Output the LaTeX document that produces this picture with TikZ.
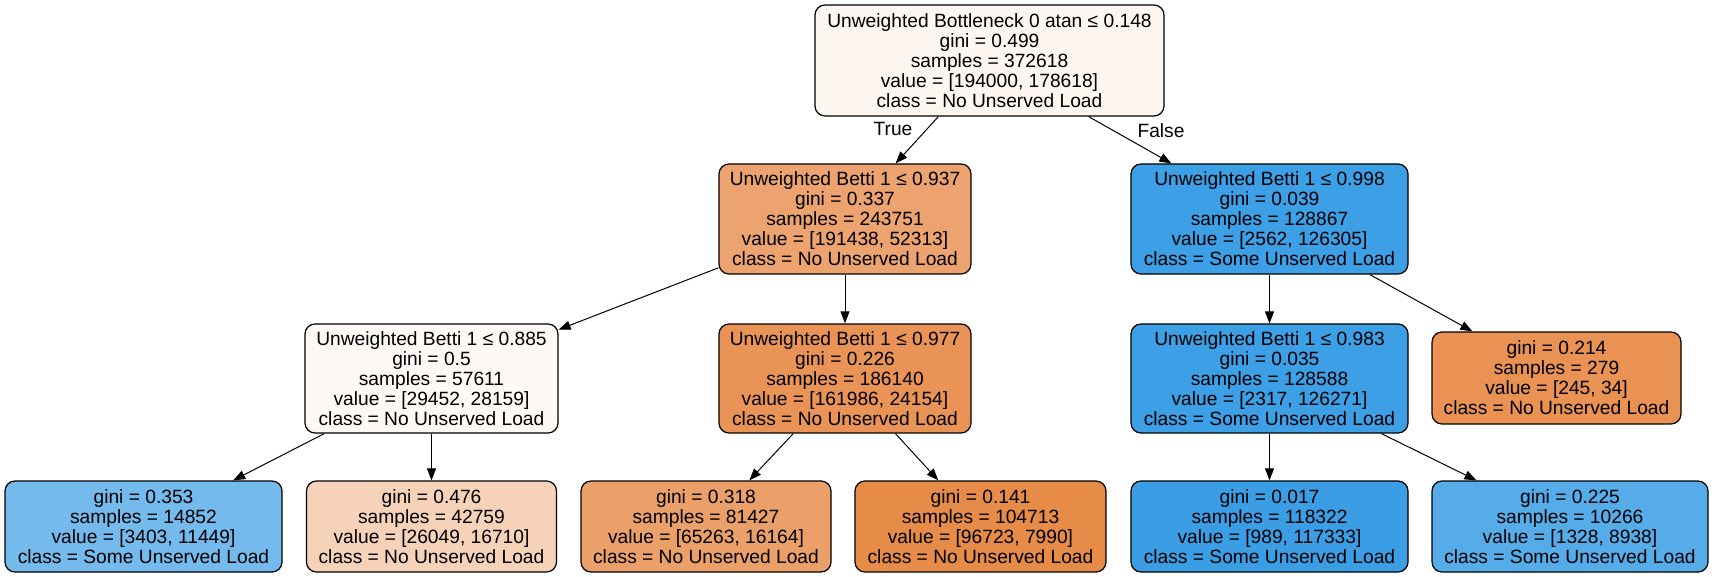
\documentclass[tikz,border=0pt]{standalone}
\usepackage{fontspec}
\setmainfont{Liberation Sans}
\usetikzlibrary{arrows.meta}
\definecolor{cRoot}{HTML}{FDF5EF}
\definecolor{cA}{HTML}{ECA36F}
\definecolor{cB}{HTML}{3D9FE6}
\definecolor{cC}{HTML}{FEF9F6}
\definecolor{cD}{HTML}{E99456}
\definecolor{cE}{HTML}{3D9FE5}
\definecolor{cF}{HTML}{E99254}
\definecolor{cLa}{HTML}{74BAED}
\definecolor{cLb}{HTML}{F6D2B8}
\definecolor{cLc}{HTML}{EBA06A}
\definecolor{cLd}{HTML}{E78B49}
\definecolor{cLe}{HTML}{3B9EE5}
\definecolor{cLf}{HTML}{56ACE9}
\begin{document}
\begin{tikzpicture}[x=0.5pt,y=-0.5pt,
  tn/.style={draw=black, line width=0.6pt, rounded corners=5pt, align=center, inner sep=0pt,
    font=\fontsize{9.6}{10}\selectfont},
  edge/.style={-{Triangle[length=6pt,width=4.5pt]}, line width=0.5pt},
  lbl/.style={font=\fontsize{9.6}{10}\selectfont, inner sep=0pt}]
\useasboundingbox (0,0) rectangle (1715,577);

\node[tn, fill=cRoot, minimum width=174.5pt, minimum height=55.5pt] (root) at (989.5,60.5)
  {Unweighted Bottleneck 0 atan ≤ 0.148\\gini = 0.499\\samples = 372618\\value = [194000, 178618]\\class = No Unserved Load};
\node[tn, fill=cA, minimum width=126pt, minimum height=55pt] (A) at (845,219)
  {Unweighted Betti 1 ≤ 0.937\\gini = 0.337\\samples = 243751\\value = [191438, 52313]\\class = No Unserved Load};
\node[tn, fill=cB, minimum width=138.5pt, minimum height=55pt] (B) at (1269.5,219)
  {Unweighted Betti 1 ≤ 0.998\\gini = 0.039\\samples = 128867\\value = [2562, 126305]\\class = Some Unserved Load};
\node[tn, fill=cC, minimum width=126.5pt, minimum height=54.5pt] (C) at (431.5,378.5)
  {Unweighted Betti 1 ≤ 0.885\\gini = 0.5\\samples = 57611\\value = [29452, 28159]\\class = No Unserved Load};
\node[tn, fill=cD, minimum width=126pt, minimum height=54.5pt] (D) at (845,378.5)
  {Unweighted Betti 1 ≤ 0.977\\gini = 0.226\\samples = 186140\\value = [161986, 24154]\\class = No Unserved Load};
\node[tn, fill=cE, minimum width=138.5pt, minimum height=54.5pt] (E) at (1269.5,378.5)
  {Unweighted Betti 1 ≤ 0.983\\gini = 0.035\\samples = 128588\\value = [2317, 126271]\\class = Some Unserved Load};
\node[tn, fill=cF, minimum width=124.5pt, minimum height=46pt] (F) at (1556.5,378)
  {gini = 0.214\\samples = 279\\value = [245, 34]\\class = No Unserved Load};
\node[tn, fill=cLa, minimum width=138.5pt, minimum height=45.5pt] (L1) at (143.5,526.5)
  {gini = 0.353\\samples = 14852\\value = [3403, 11449]\\class = Some Unserved Load};
\node[tn, fill=cLb, minimum width=125pt, minimum height=45.5pt] (L2) at (431.5,526.5)
  {gini = 0.476\\samples = 42759\\value = [26049, 16710]\\class = No Unserved Load};
\node[tn, fill=cLc, minimum width=125pt, minimum height=45.5pt] (L3) at (706,526.5)
  {gini = 0.318\\samples = 81427\\value = [65263, 16164]\\class = No Unserved Load};
\node[tn, fill=cLd, minimum width=125.5pt, minimum height=45.5pt] (L4) at (980.5,526.5)
  {gini = 0.141\\samples = 104713\\value = [96723, 7990]\\class = No Unserved Load};
\node[tn, fill=cLe, minimum width=138.5pt, minimum height=45.5pt] (L5) at (1269.5,526.5)
  {gini = 0.017\\samples = 118322\\value = [989, 117333]\\class = Some Unserved Load};
\node[tn, fill=cLf, minimum width=138pt, minimum height=45.5pt] (L6) at (1570,526.5)
  {gini = 0.225\\samples = 10266\\value = [1328, 8938]\\class = Some Unserved Load};

\draw[edge] (root) -- (A);
\draw[edge] (root) -- (B);
\draw[edge] (A) -- (C);
\draw[edge] (A) -- (D);
\draw[edge] (B) -- (E);
\draw[edge] (B) -- (F);
\draw[edge] (C) -- (L1);
\draw[edge] (C) -- (L2);
\draw[edge] (D) -- (L3);
\draw[edge] (D) -- (L4);
\draw[edge] (E) -- (L5);
\draw[edge] (E) -- (L6);

\node[lbl] (tTrue) at (893,129) {True};
\node[lbl] (tFalse) at (1161,131) {False};
\end{tikzpicture}
\end{document}
